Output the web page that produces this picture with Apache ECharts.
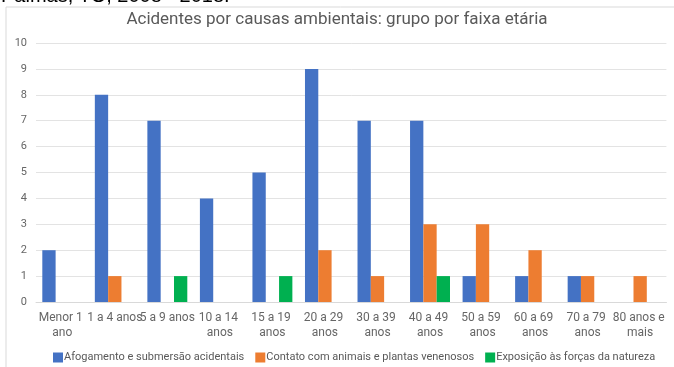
<!DOCTYPE html>
<html>
<head>
<meta charset="utf-8">
<script src="https://cdn.jsdelivr.net/npm/echarts@6/dist/echarts.min.js"></script>
<style>
  html, body { margin: 0; padding: 0; background: #fff; }
  #chart { width: 674px; height: 367px; }
</style>
</head>
<body>
<div id="chart"></div>
<script>
// faixas etárias
var categorias = ['Menor 1 ano', '1 a 4 anos', '5 a 9 anos', '10 a 14 anos', '15 a 19 anos', '20 a 29 anos',
  '30 a 39 anos', '40 a 49 anos', '50 a 59 anos', '60 a 69 anos', '70 a 79 anos', '80 anos e mais'];
var afogamento = [2, 8, 7, 4, 5, 9, 7, 7, 1, 1, 1, 0];
var contato = [0, 1, 0, 0, 0, 2, 1, 3, 3, 2, 1, 1];
var exposicao = [0, 0, 1, 0, 1, 0, 0, 1, 0, 0, 0, 0];
var nomes = ['Afogamento e submersão acidentais', 'Contato com animais e plantas venenosos', 'Exposição às forças da natureza'];

var myChart = echarts.init(document.getElementById('chart'));

var option = {
  animation: false,
  color: ['#4472c4', '#ed7d31', '#00b050'],
  textStyle: { fontFamily: 'Roboto' },
  graphic: [
    {
      type: 'rect',
      shape: { x: 6, y: 7, width: 720, height: 420 },
      style: { fill: 'none', stroke: '#d9d9d9', lineWidth: 1 },
      silent: true
    },
    {
      type: 'text',
      x: 1, y: -14,
      style: {
        text: 'Palmas, TO, 2008 - 2018.',
        fontFamily: 'Liberation Sans',
        fontSize: 20,
        fill: '#000'
      }
    }
  ],
  title: {
    text: 'Acidentes por causas ambientais: grupo por faixa etária',
    left: 'center',
    top: 6,
    textStyle: { fontSize: 17, fontWeight: 'normal', color: '#595959', fontFamily: 'Roboto' }
  },
  legend: {
    data: nomes,
    bottom: -1,
    left: 48,
    icon: 'rect',
    itemWidth: 10,
    itemHeight: 10,
    itemGap: 11,
    textStyle: { fontSize: 11, color: '#595959', padding: [0, 0, 0, -4] }
  },
  grid: { left: 36, right: 4, top: 43, bottom: 65 },
  xAxis: {
    type: 'category',
    data: categorias,
    axisTick: { show: false },
    axisLine: { lineStyle: { color: '#d9d9d9' } },
    axisLabel: {
      interval: 0,
      color: '#666',
      fontSize: 12,
      width: 62,
      overflow: 'break',
      lineHeight: 15,
      margin: 8
    }
  },
  yAxis: {
    type: 'value',
    min: 0,
    max: 10,
    interval: 1,
    axisLabel: { color: '#666', fontSize: 11, margin: 9 },
    splitLine: { lineStyle: { color: '#e3e3e3' } }
  },
  series: [
    { name: nomes[0], type: 'bar', data: afogamento, barGap: 0, barCategoryGap: '24%' },
    { name: nomes[1], type: 'bar', data: contato, barGap: 0, barCategoryGap: '24%' },
    { name: nomes[2], type: 'bar', data: exposicao, barGap: 0, barCategoryGap: '24%' }
  ]
};

myChart.setOption(option);
</script>
</body>
</html>
